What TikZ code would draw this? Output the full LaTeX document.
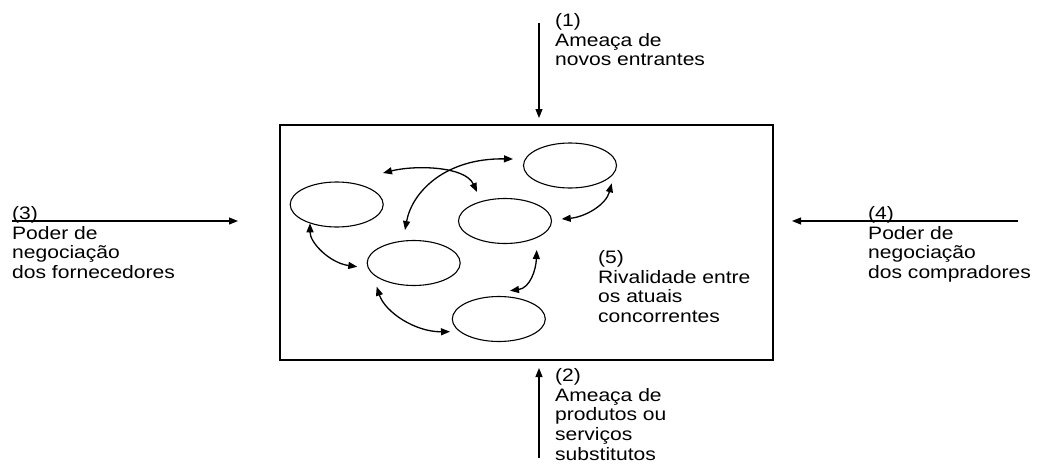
\documentclass[tikz,border=0pt]{standalone}
\usepackage{fontspec}
\setmainfont{Liberation Sans}[FakeStretch=1.17]
\usetikzlibrary{arrows.meta,shapes.geometric}
\begin{document}
\begin{tikzpicture}[x=1pt,y=-1pt,
  lbl/.style={anchor=north west,inner sep=0pt,align=left,font=\fontsize{18}{19.8}\selectfont},
  firm/.style={draw,ellipse,line width=1.1pt,minimum width=93pt,minimum height=45pt,inner sep=0pt},
  force/.style={line width=1.1pt,-{Triangle[length=9pt,width=7pt]}},
  rival/.style={line width=1.3pt,{Triangle[length=9pt,width=7pt]}-{Triangle[length=9pt,width=7pt]}},
  market/.style={draw,line width=2pt,minimum width=493pt,minimum height=235pt,inner sep=0pt}]
\useasboundingbox (0,0) rectangle (1037,466);
% market box
\node[market] (box) at (526.5,242.5) {};
% competitors
\node[firm] (e1) at (336.7,204.5) {};
\node[firm] (e2) at (570,165.5) {};
\node[firm] (e3) at (505,221) {};
\node[firm] (e4) at (413.7,263) {};
\node[firm] (e5) at (498.8,319) {};
% rivalry arrows
\draw[rival] ([shift={(46.3,-31.5)}]e1.center) .. controls (415,165) and (465,166) .. ([shift={(-28,-29)}]e3.center);
\draw[rival] ([shift={(-8.7,-33)}]e4.center) .. controls (412,192) and (445,158) .. ([shift={(-57,-6.5)}]e2.center);
\draw[rival] ([shift={(41.7,17.8)}]e2.center) .. controls (606,205) and (585,217) .. ([shift={(56.7,-2)}]e3.center);
\draw[rival] ([shift={(-26.7,18.8)}]e1.center) .. controls (310,243) and (330,263) .. ([shift={(-56.4,3.7)}]e4.center);
\draw[rival] ([shift={(-37,23.7)}]e4.center) .. controls (385,312) and (415,332) .. ([shift={(-48.8,12.7)}]e5.center);
\draw[rival] ([shift={(31.7,29)}]e3.center) .. controls (536,270) and (530,288) .. ([shift={(11.2,-28.3)}]e5.center);
% outer forces
\coordinate (t0) at (539,23);   \coordinate (t1) at (539,118);
\coordinate (b0) at (539,458);  \coordinate (b1) at (539,368);
\coordinate (l0) at (12,221);   \coordinate (l1) at (238,221);
\coordinate (r0) at (1018,221); \coordinate (r1) at (792,221);
\draw[force] (t0) -- (t1);
\draw[force] (b0) -- (b1);
\draw[force] (l0) -- (l1);
\draw[force] (r0) -- (r1);
% labels
\node[lbl] (n1) at (555,13) {(1)\\Ameaça de\\novos entrantes};
\node[lbl] (n2) at (555,368) {(2)\\Ameaça de\\produtos ou\\serviços\\substitutos};
\node[lbl] (n3) at (12,206) {(3)\\Poder de\\negociação\\dos fornecedores};
\node[lbl] (n4) at (868,206) {(4)\\Poder de\\negociação\\dos compradores};
\node[lbl] (n5) at (598,250) {(5)\\Rivalidade entre\\os atuais\\concorrentes};
\end{tikzpicture}
\end{document}
